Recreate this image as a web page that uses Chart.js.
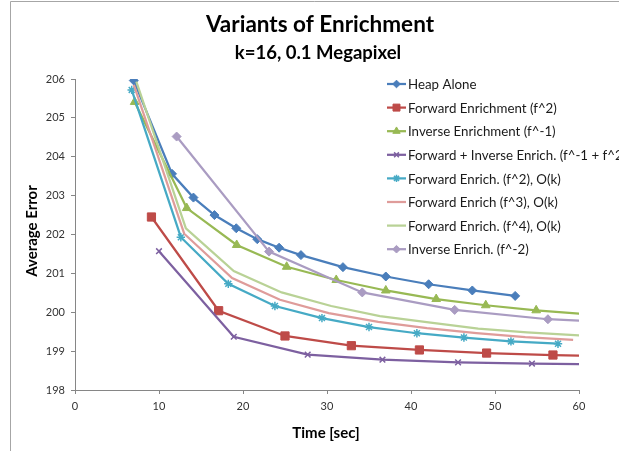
<!DOCTYPE html>
<html>
<head>
<meta charset="utf-8">
<script src="https://cdn.jsdelivr.net/npm/chart.js@4/dist/chart.umd.min.js"></script>
<style>
  html, body { margin: 0; padding: 0; background: #fff; }
  #wrap { width: 619px; height: 451px; position: relative; }
</style>
</head>
<body>
<div id="wrap"><canvas id="lineChart" width="619" height="451"></canvas></div>
<script>
// values (time in sec, average error)
const seriesNames = [
    "Heap Alone",
    "Forward Enrichment (f^2)",
    "Inverse Enrichment (f^-1)",
    "Forward + Inverse Enrich. (f^-1 + f^2)",
    "Forward Enrich. (f^2), O(k)",
    "Forward Enrich (f^3), O(k)",
    "Forward Enrich. (f^4), O(k)",
    "Inverse Enrich. (f^-2)"
];

const heapTime = [7.0, 11.55, 14.1, 16.6, 19.2, 21.7, 24.3, 26.9, 31.9, 37.0, 42.1, 47.3, 52.4];
const heapErr = [205.96, 203.56, 202.95, 202.5, 202.16, 201.88, 201.66, 201.47, 201.16, 200.92, 200.72, 200.56, 200.42];

const fwdTime = [9.1, 17.1, 25.0, 32.9, 41.0, 49.0, 56.9, 64.9];
const fwdErr = [202.45, 200.04, 199.39, 199.14, 199.03, 198.95, 198.90, 198.86];

const invTime = [7.1, 13.3, 19.25, 25.2, 31.1, 37.0, 43.0, 48.9, 54.9, 60.9];
const invErr = [205.41, 202.68, 201.73, 201.17, 200.83, 200.56, 200.34, 200.18, 200.05, 199.95];

const fwdInvTime = [10.0, 18.9, 27.7, 36.6, 45.6, 54.4, 63.3];
const fwdInvErr = [201.57, 199.37, 198.91, 198.78, 198.71, 198.68, 198.66];

const f2kTime = [6.75, 12.6, 18.25, 23.8, 29.4, 35.0, 40.7, 46.3, 51.9, 57.5];
const f2kErr = [205.72, 201.93, 200.73, 200.16, 199.85, 199.62, 199.46, 199.35, 199.25, 199.19];

const f3kTime = [7.0, 13.0, 18.7, 24.4, 30.2, 36.1, 41.9, 47.8, 53.6, 59.3];
const f3kErr = [205.85, 202.02, 200.88, 200.32, 199.98, 199.75, 199.59, 199.46, 199.36, 199.29];

const f4kTime = [7.3, 13.2, 18.9, 24.6, 30.5, 36.3, 42.1, 48.0, 53.8, 60.2];
const f4kErr = [205.93, 202.16, 201.06, 200.51, 200.16, 199.90, 199.74, 199.58, 199.48, 199.40];

const inv2Time = [12.1, 23.1, 34.2, 45.2, 56.3, 67.3];
const inv2Err = [204.52, 201.56, 200.51, 200.06, 199.82, 199.72];

const xTicks = [0, 10, 20, 30, 40, 50, 60];
const yTicks = [198, 199, 200, 201, 202, 203, 204, 205, 206];

const allTimes = [heapTime, fwdTime, invTime, fwdInvTime, f2kTime, f3kTime, f4kTime, inv2Time];
const allErrs = [heapErr, fwdErr, invErr, fwdInvErr, f2kErr, f3kErr, f4kErr, inv2Err];

const colors = ["#4A7EBB", "#BE4B48", "#98B954", "#7D60A0", "#46AAC5", "#DF9C9A", "#B9D296", "#AA9CC2"];
const markers = ["rectRot", "rect", "triangle", "crossRot", "star", false, false, "rectRot"];
const markerSize = [4.5, 5.8, 5, 4, 4.2, 0, 0, 4.5];

const FONT = "Lato, 'Open Sans', sans-serif";

const datasets = seriesNames.map((name, i) => ({
    label: name,
    data: allTimes[i].map((t, j) => ({ x: t, y: allErrs[i][j] })),
    borderColor: colors[i],
    backgroundColor: colors[i],
    pointBackgroundColor: colors[i],
    pointBorderColor: colors[i],
    pointStyle: markers[i] || "circle",
    pointRadius: markerSize[i],
    pointBorderWidth: markers[i] === "crossRot" || markers[i] === "star" ? 1.5 : 1,
    borderWidth: 2.25,
    tension: 0,
    order: seriesNames.length - i
}));

// chart frame, titles and legend drawn by hand to sit where the original puts them
const decorations = {
    id: "decorations",
    beforeDraw(chart) {
        const ctx = chart.ctx;
        ctx.save();
        ctx.fillStyle = "#fff";
        ctx.fillRect(0, 0, chart.width, chart.height);
        ctx.strokeStyle = "#A6A6A6";
        ctx.lineWidth = 1;
        ctx.beginPath();
        ctx.moveTo(10.5, chart.height);
        ctx.lineTo(10.5, 1.5);
        ctx.lineTo(chart.width, 1.5);
        ctx.stroke();
        ctx.restore();
    },
    afterDraw(chart) {
        const ctx = chart.ctx;
        ctx.save();
        ctx.fillStyle = "#000";
        ctx.textAlign = "center";
        ctx.textBaseline = "alphabetic";
        ctx.font = "bold 22.5px " + FONT;
        ctx.fillText("Variants of Enrichment", 320, 32);
        ctx.font = "bold 18.5px " + FONT;
        ctx.fillText("k=16, 0.1 Megapixel", 318, 59);

        ctx.font = "bold 15px " + FONT;
        ctx.textBaseline = "middle";
        ctx.fillText("Time [sec]", 326, 433);
        ctx.save();
        ctx.translate(32, 231);
        ctx.rotate(-Math.PI / 2);
        ctx.fillText("Average Error", 0, 0);
        ctx.restore();

        // legend
        ctx.textAlign = "left";
        ctx.font = "13.3px " + FONT;
        seriesNames.forEach((name, i) => {
            const y = 84 + i * 23.6;
            ctx.strokeStyle = colors[i];
            ctx.lineWidth = 2.25;
            ctx.beginPath();
            ctx.moveTo(387, y);
            ctx.lineTo(406, y);
            ctx.stroke();
            if (markers[i]) {
                ctx.fillStyle = colors[i];
                ctx.lineWidth = markers[i] === "crossRot" || markers[i] === "star" ? 1.5 : 1;
                Chart.helpers.drawPoint(ctx, {
                    pointStyle: markers[i],
                    radius: markerSize[i] * 0.85,
                    borderWidth: ctx.lineWidth,
                    rotation: 0
                }, 396.5, y);
            }
            ctx.fillStyle = "#1a1a1a";
            ctx.fillText(name, 408, y + 1);
        });
        ctx.restore();
    }
};

const axisColor = "#868686";

new Chart("lineChart", {
    type: "line",
    data: { datasets: datasets },
    options: {
        responsive: false,
        animation: false,
        layout: { padding: { top: 79, right: 40, left: 0, bottom: 0 } },
        plugins: {
            legend: { display: false },
            title: { display: false },
            tooltip: { enabled: false }
        },
        scales: {
            x: {
                type: "linear",
                min: 0,
                max: 60,
                afterFit: (s) => { s.height = 61; },
                afterBuildTicks: (s) => { s.ticks = xTicks.map(v => ({ value: v })); },
                grid: { drawOnChartArea: false, drawTicks: true, tickLength: 4, color: axisColor },
                border: { color: axisColor, width: 1 },
                ticks: { color: "#333", font: { family: FONT, size: 11 }, padding: 6, maxRotation: 0 }
            },
            y: {
                type: "linear",
                min: 198,
                max: 206,
                afterFit: (s) => { s.width = 75; },
                afterBuildTicks: (s) => { s.ticks = yTicks.map(v => ({ value: v })); },
                grid: { drawOnChartArea: false, drawTicks: true, tickLength: 4, color: axisColor },
                border: { color: axisColor, width: 1 },
                ticks: { color: "#333", font: { family: FONT, size: 11 }, padding: 6 }
            }
        }
    },
    plugins: [decorations]
});
</script>
</body>
</html>
